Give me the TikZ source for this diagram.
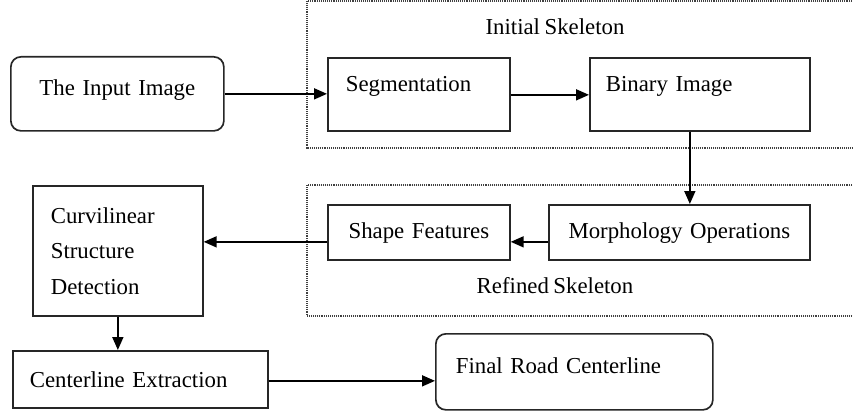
\documentclass[tikz,border=0pt]{standalone}
\usepackage{fontspec}
\setmainfont{Liberation Serif}[WordSpace=0.8]
\usetikzlibrary{arrows.meta,calc}
\begin{document}
\begin{tikzpicture}[x=1pt,y=-1pt,
  font=\fontsize{22.8}{35.5}\selectfont,
  box/.style={draw=black!85,line width=1.7pt,inner ysep=0pt,anchor=north west},
  rbox/.style={box,rounded corners=10pt},
  frame/.style={draw=black!75,line width=1.2pt,dash pattern=on 1pt off 0.9pt},
  arr/.style={draw=black,line width=1.7pt,-{Triangle[length=13pt,width=11pt]}}]
\useasboundingbox (0,0) rectangle (853,412);
% frames
\draw[frame] (856,1) -- (307,1) -- (307,148) -- (856,148);
\draw[frame] (856,185) -- (307,185) -- (307,316) -- (856,316);
\node[anchor=base] (initlab) at (555,35) {Initial Skeleton};
\node[anchor=base] (reflab) at (555,293) {Refined Skeleton};
% boxes
\node[rbox,inner xsep=0pt,text width=213pt,align=center,text height=39pt,text depth=35pt] (input) at (10,56) {The Input Image};
\node[box,inner xsep=18pt,text width=146pt,align=left,text height=34pt,text depth=39pt] (seg) at (327,57) {Segmentation};
\node[box,inner xsep=16pt,text width=188pt,align=left,text height=34pt,text depth=39pt] (bin) at (589,57) {Binary Image};
\node[box,inner xsep=0pt,text width=261pt,align=center,text height=34pt,text depth=21pt] (morph) at (548,204) {Morphology Operations};
\node[box,inner xsep=0pt,text width=182pt,align=center,text height=34pt,text depth=21pt] (shape) at (327,204) {Shape Features};
\node[box,inner xsep=18pt,text width=134pt,align=left,minimum height=130pt] (curv) at (32,185) {Curvilinear\\Structure\\Detection};
\node[box,inner xsep=17pt,text width=221pt,align=left,text height=37pt,text depth=20pt] (cent) at (12,350) {Centerline Extraction};
\node[rbox,inner xsep=20pt,text width=237pt,align=left,text height=40pt,text depth=36pt] (final) at (435,333) {Final Road Centerline};
% connectors
\draw[arr] (input.east) -- (input.east -| seg.west);
\draw[arr] ([yshift=-0.5pt]seg.east) -- ([yshift=-0.5pt]seg.east -| bin.west);
\draw[arr] ([xshift=-10pt]bin.south) -- ([xshift=-10pt]bin.south |- morph.north);
\draw[arr] ([yshift=-9.5pt]morph.west) -- ([yshift=-9.5pt]morph.west -| shape.east);
\draw[arr] ([yshift=-9.5pt]shape.west) -- ([yshift=-9.5pt]shape.west -| curv.east);
\draw[arr] (curv.south) -- (curv.south |- cent.north);
\draw[arr] ([yshift=-1.5pt]cent.east) -- ([yshift=-1.5pt]cent.east -| final.west);
\end{tikzpicture}
\end{document}
